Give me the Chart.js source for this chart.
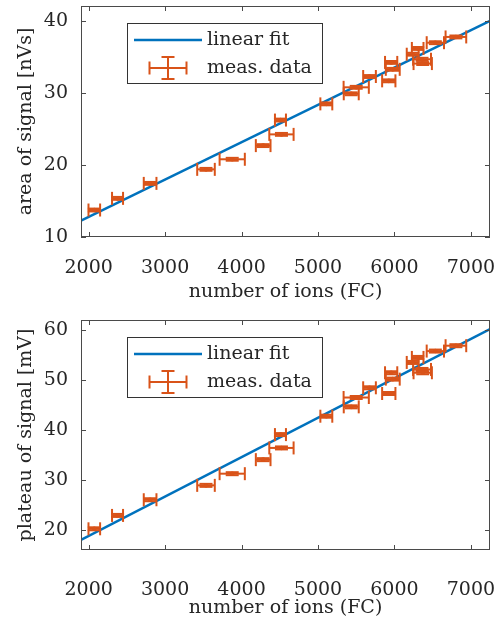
<!DOCTYPE html>
<html>
<head>
<meta charset="utf-8">
<script src="https://cdn.jsdelivr.net/npm/chart.js@4.4.0/dist/chart.umd.min.js"></script>
<style>
  html, body { margin: 0; padding: 0; background: #fff; }
  #wrap { position: relative; width: 494px; height: 618px; }
  canvas { position: absolute; left: 0; }
</style>
</head>
<body>
<div id="wrap">
  <canvas id="topChart" width="494" height="310" style="top:0"></canvas>
  <canvas id="botChart" width="494" height="308" style="top:310px"></canvas>
</div>
<script>
const ions = [2074, 2378, 2804, 3535, 3878, 4283, 4509, 4522, 5109, 5435, 5500,
              5674, 5926, 5957, 5978, 6239, 6304, 6361, 6370, 6535, 6804];
const ionErr = [76, 72, 83, 115, 165, 96, 72, 159, 78, 98, 165,
                83, 87, 80, 91, 78, 76, 117, 120, 113, 135];
const area = [13.75, 15.37, 17.45, 19.4, 20.8, 22.7, 26.25, 24.26, 28.5, 29.9, 30.8,
              32.3, 31.7, 34.26, 33.3, 35.4, 36.2, 34.7, 34.1, 37.0, 37.8];
const areaErr = [0.2, 0.2, 0.2, 0.2, 0.2, 0.2, 0.2, 0.2, 0.2, 0.2, 0.2,
                 0.2, 0.2, 0.2, 0.2, 0.2, 0.2, 0.2, 0.2, 0.2, 0.2];
const plateau = [20.33, 23.0, 26.13, 29.0, 31.33, 34.13, 39.13, 36.47, 42.8, 44.67, 46.53,
                 48.47, 47.33, 51.47, 50.2, 53.53, 54.53, 52.13, 51.47, 55.8, 56.87];
const plateauErr = [0.3, 0.3, 0.3, 0.3, 0.3, 0.3, 0.3, 0.3, 0.3, 0.3, 0.3,
                    0.3, 0.3, 0.3, 0.3, 0.3, 0.3, 0.3, 0.3, 0.3, 0.3];

// linear fit end points
const fitX = [1900, 7250];
const fitArea = [12.26, 40.05];
const fitPlateau = [18.13, 60.2];

// tick values
const xTicks = [2000, 3000, 4000, 5000, 6000, 7000];
const areaTicks = [10, 20, 30, 40];
const plateauTicks = [20, 30, 40, 50, 60];

const FONT = "'DejaVu Serif', serif";
const FSIZE = 19;
const TXT = '#262626';
const BLUE = '#0072BD';
const ORANGE = '#D95319';

function line(ctx, x1, y1, x2, y2) {
    ctx.beginPath();
    ctx.moveTo(x1, y1);
    ctx.lineTo(x2, y2);
    ctx.stroke();
}

// draws an errorbar glyph (both directions) centred at px,py
function errGlyph(ctx, px, py, xl, xr, yt, yb, cap) {
    line(ctx, xl, py, xr, py);
    line(ctx, xl, py - cap, xl, py + cap);
    line(ctx, xr, py - cap, xr, py + cap);
    line(ctx, px, yt, px, yb);
    line(ctx, px - cap, yt, px + cap, yt);
    line(ctx, px - cap, yb, px + cap, yb);
}

const errorBars = {
    id: 'errorBars',
    afterDatasetsDraw(chart) {
        const ctx = chart.ctx;
        const xs = chart.scales.x, ys = chart.scales.y;
        const ds = chart.data.datasets[1];
        ctx.save();
        ctx.strokeStyle = ORANGE;
        ctx.fillStyle = ORANGE;
        ctx.lineWidth = 2;
        ds.data.forEach((p) => {
            const px = xs.getPixelForValue(p.x), py = ys.getPixelForValue(p.y);
            errGlyph(ctx, px, py,
                xs.getPixelForValue(p.x - p.xe), xs.getPixelForValue(p.x + p.xe),
                ys.getPixelForValue(p.y + p.ye), ys.getPixelForValue(p.y - p.ye), 6.5);
            ctx.beginPath();
            ctx.arc(px, py, 2.3, 0, Math.PI * 2);
            ctx.fill();
        });
        ctx.restore();
    }
};

// axes box with inward ticks on all sides + legend
const boxAndLegend = {
    id: 'boxAndLegend',
    afterDraw(chart) {
        const ctx = chart.ctx;
        const a = chart.chartArea;
        const xs = chart.scales.x, ys = chart.scales.y;
        ctx.save();
        ctx.strokeStyle = '#4a4a4a';
        ctx.lineWidth = 1;
        ctx.strokeRect(Math.round(a.left) + 0.5, Math.round(a.top) + 0.5,
                       Math.round(a.width) - 1, Math.round(a.height) - 1);
        xs.ticks.forEach((t) => {
            const px = Math.round(xs.getPixelForValue(t.value)) + 0.5;
            line(ctx, px, a.bottom, px, a.bottom - 5);
            line(ctx, px, a.top, px, a.top + 5);
        });
        ys.ticks.forEach((t) => {
            const py = Math.round(ys.getPixelForValue(t.value)) + 0.5;
            line(ctx, a.left, py, a.left + 5, py);
            line(ctx, a.right, py, a.right - 5, py);
        });

        // legend
        const lx = a.left + 46, ly = a.top + 17, lw = 195, lh = 60;
        ctx.fillStyle = '#fff';
        ctx.fillRect(lx, ly, lw, lh);
        ctx.strokeStyle = '#333';
        ctx.strokeRect(Math.round(lx) + 0.5, Math.round(ly) + 0.5, lw, lh);
        const r1 = ly + 17, r2 = ly + 45;
        ctx.strokeStyle = BLUE;
        ctx.lineWidth = 2.5;
        line(ctx, lx + 7, r1, lx + 75, r1);
        ctx.strokeStyle = ORANGE;
        ctx.lineWidth = 2;
        const gx = lx + 41;
        errGlyph(ctx, gx, r2, gx - 18.5, gx + 18.5, r2 - 11, r2 + 11, 6.5);
        ctx.fillStyle = TXT;
        ctx.font = FSIZE + 'px ' + FONT;
        ctx.textBaseline = 'middle';
        ctx.textAlign = 'left';
        ctx.fillText('linear fit', lx + 80, r1);
        ctx.fillText('meas. data', lx + 80, r2);
        ctx.restore();
    }
};

function makeChart(id, yVals, yErr, fitY, yMin, yMax, yTicks, yTitle, layout) {
    const points = ions.map((x, i) => ({ x: x, y: yVals[i], xe: ionErr[i], ye: yErr[i] }));
    const fit = fitX.map((x, i) => ({ x: x, y: fitY[i] }));
    return new Chart(document.getElementById(id), {
        type: 'scatter',
        data: {
            datasets: [
                {
                    type: 'line',
                    label: 'linear fit',
                    data: fit,
                    borderColor: BLUE,
                    borderWidth: 2.5,
                    pointRadius: 0,
                    fill: false
                },
                {
                    label: 'meas. data',
                    data: points,
                    pointRadius: 0,
                    showLine: false
                }
            ]
        },
        options: {
            responsive: false,
            animation: false,
            events: [],
            layout: { padding: { top: layout.top, right: 4, left: 0, bottom: 0 } },
            plugins: { legend: { display: false }, tooltip: { enabled: false } },
            scales: {
                x: {
                    type: 'linear',
                    min: 1900,
                    max: 7250,
                    afterBuildTicks: (s) => { s.ticks = xTicks.map((v) => ({ value: v })); },
                    afterFit: (s) => { s.height = layout.xh; s.paddingLeft = 0; s.paddingRight = 0; },
                    grid: { display: false, drawTicks: false },
                    border: { display: false },
                    ticks: {
                        color: TXT,
                        padding: layout.xpad,
                        maxRotation: 0,
                        callback: (v) => String(v),
                        font: { family: FONT, size: FSIZE, lineHeight: 1 }
                    },
                    title: {
                        display: true,
                        text: 'number of ions (FC)',
                        color: TXT,
                        padding: { top: 0, bottom: layout.tpad },
                        font: { family: FONT, size: FSIZE, lineHeight: 1 }
                    }
                },
                y: {
                    min: yMin,
                    max: yMax,
                    afterBuildTicks: (s) => { s.ticks = yTicks.map((v) => ({ value: v })); },
                    afterFit: (s) => { s.width = 81; s.paddingTop = 0; s.paddingBottom = 0; },
                    grid: { display: false, drawTicks: false },
                    border: { display: false },
                    ticks: {
                        color: TXT,
                        padding: 13,
                        callback: (v) => String(v),
                        font: { family: FONT, size: FSIZE, lineHeight: 1 }
                    },
                    title: {
                        display: true,
                        text: yTitle,
                        color: TXT,
                        padding: { top: 17, bottom: 0 },
                        font: { family: FONT, size: FSIZE, lineHeight: 1 }
                    }
                }
            }
        },
        plugins: [errorBars, boxAndLegend]
    });
}

makeChart('topChart', area, areaErr, fitArea, 10, 42.1, areaTicks, 'area of signal [nVs]',
          { top: 6, xh: 73, xpad: 22, tpad: 8 });
makeChart('botChart', plateau, plateauErr, fitPlateau, 16.1, 62, plateauTicks, 'plateau of signal [mV]',
          { top: 10, xh: 68, xpad: 31, tpad: 0 });
</script>
</body>
</html>
